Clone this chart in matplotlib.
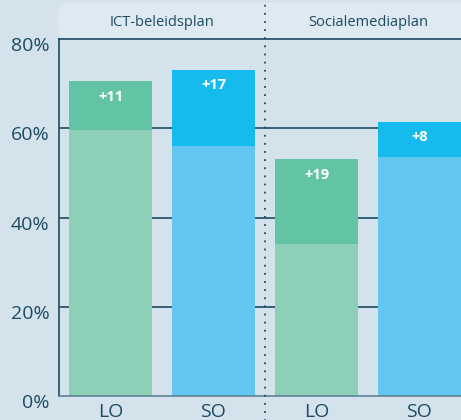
import matplotlib.pyplot as plt
from matplotlib.patches import FancyBboxPatch
from matplotlib.transforms import IdentityTransform, ScaledTranslation

plt.rcParams['font.family'] = ['Open Sans', 'DejaVu Sans']

# data
groups = ["ICT-beleidsplan", "Socialemediaplan"]
categories = ["LO", "SO", "LO", "SO"]
base = [59.5, 56, 34, 53.5]
increase = [11, 17, 19, 8]
yticks = [0, 20, 40, 60, 80]

bg = "#d4e2ec"
header_bg = "#dee9f1"
dark = "#1d4b63"
base_colors = ["#8dcfb7", "#62c6f0", "#8dcfb7", "#62c6f0"]
inc_colors = ["#62c3a5", "#16bbee", "#62c3a5", "#16bbee"]

fig = plt.figure(figsize=(4.61, 4.20), dpi=100, facecolor=bg)
ax = fig.add_axes([59 / 461, 24 / 420, 1 - 59 / 461, (396 - 39) / 420])
ax.set_facecolor(bg)
ax.patch.set_alpha(0)

# header box with rounded corner, behind the axes
header = FancyBboxPatch((58, 382), 420, 35, boxstyle="round,pad=0,rounding_size=10",
                        transform=IdentityTransform(), facecolor=header_bg,
                        edgecolor="none", zorder=-1)
fig.patches.append(header)

x = range(len(categories))
for v in yticks[1:-1]:
    ax.axhline(v, color=dark, lw=1.2, zorder=1)

ax.bar(x, base, width=0.806, color=base_colors, zorder=2)
ax.bar(x, increase, bottom=base, width=0.806, color=inc_colors, zorder=2)
for i in x:
    top = base[i] + increase[i]
    ax.text(i, top - 3.4, f"+{increase[i]}", ha="center", va="center",
            color="white", fontsize=10.5, fontweight="bold", zorder=3)

ax.set_xlim(-0.5, 3.403)
ax.set_ylim(0, 80)
ax.set_yticks(yticks)
ax.set_yticklabels([f"{v}%" for v in yticks], fontsize=14, color=dark)
ax.set_xticks(list(x))
ax.set_xticklabels(categories, fontsize=14, color=dark)
ax.tick_params(length=0, pad=7)
ax.tick_params(axis="x", pad=5)
shift = ScaledTranslation(0, -0.05, fig.dpi_scale_trans)
for lab in ax.get_yticklabels():
    lab.set_transform(lab.get_transform() + shift)

ax.spines["right"].set_visible(False)
ax.spines["left"].set_color(dark)
ax.spines["left"].set_linewidth(1.2)
ax.spines["top"].set_color(dark)
ax.spines["top"].set_linewidth(1.2)
ax.spines["bottom"].set_color("#5f8496")
ax.spines["bottom"].set_linewidth(1.2)

# dotted divider between the two groups
ax.plot([1.5, 1.5], [-10, 90], color=dark, lw=1.3, ls=(0, (1, 3.5)),
        clip_on=False, zorder=4)

# group titles
for gi, g in enumerate(groups):
    ax.text(0.5 + 2 * gi, 83.8, g, ha="center", va="center", fontsize=10.5,
            color=dark, clip_on=False)

fig.savefig("out.png", dpi=100, facecolor=bg)
